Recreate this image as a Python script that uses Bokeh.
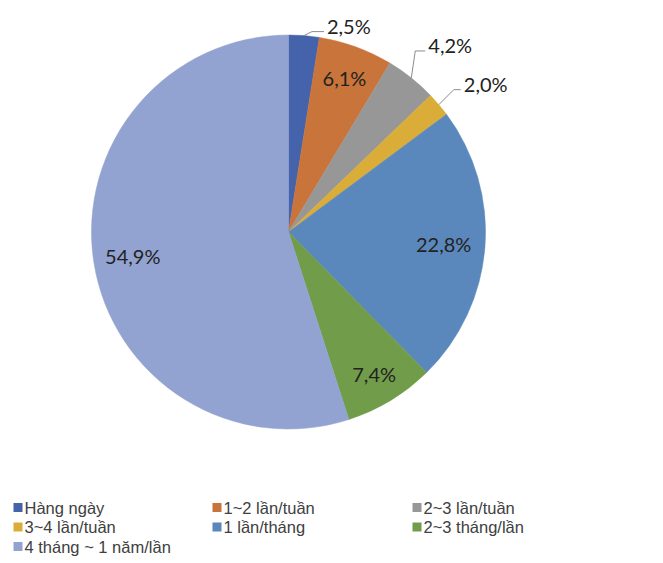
import math
from bokeh.plotting import figure
from bokeh.models import Range1d, ColumnDataSource
from bokeh.core.properties import value
from bokeh.embed import file_html
from bokeh.resources import INLINE

# ---- data ----
categories = ["Hàng ngày", "1~2 lần/tuần", "2~3 lần/tuần", "3~4 lần/tuần",
              "1 lần/tháng", "2~3 tháng/lần", "4 tháng ~ 1 năm/lần"]
values = [2.5, 6.1, 4.2, 2.0, 22.8, 7.4, 54.9]
labels = ["2,5%", "6,1%", "4,2%", "2,0%", "22,8%", "7,4%", "54,9%"]

# ---- style ----
colors = ["#4463AB", "#C9743A", "#979797", "#D9AD38", "#5B88BC", "#719D4B", "#93A3D1"]
W, H = 663, 563
def Y(s):  # screen y -> data y
    return H - s

cx, cy, R = 288, Y(231.5), 197
# label placement: ("in", radius factor) or ("out", elbow dx, elbow dy, tail length)
placement = [("out", 8, -4, 12), ("in", 0.83), ("out", 4, -27, 10), ("out", 15, -15, 7),
             ("in", 0.79), ("in", 0.84), ("in", 0.80)]
label_font = value("Lato")
legend_font = value("Liberation Sans")

p = figure(width=W, height=H, x_range=Range1d(0, W), y_range=Range1d(0, H),
           toolbar_location=None, output_backend="svg", min_border=0)
p.axis.visible = False
p.grid.visible = False
p.outline_line_color = None
p.background_fill_color = "white"

total = sum(values)
starts, ends, mids = [], [], []
cum = 0.0
for v in values:
    a0 = cum / total * 2 * math.pi
    cum += v
    a1 = cum / total * 2 * math.pi
    starts.append(math.pi / 2 - a0)
    ends.append(math.pi / 2 - a1)
    mids.append((a0 + a1) / 2)

src = ColumnDataSource(dict(start=starts, end=ends, color=colors, cat=categories))
p.wedge(x=cx, y=cy, radius=R, start_angle="start", end_angle="end", direction="clock",
        fill_color="color", line_color="color", line_width=0.5, source=src)

in_x, in_y, in_t = [], [], []
out_x, out_y, out_t = [], [], []
for m, lab, pl in zip(mids, labels, placement):
    if pl[0] == "in":
        f = pl[1]
        in_x.append(cx + R * f * math.sin(m))
        in_y.append(cy + R * f * math.cos(m))
        in_t.append(lab)
    else:
        _, edx, edy, tail = pl
        ex = cx + R * math.sin(m)
        ey = cy + R * math.cos(m)
        bx, by = ex + edx, ey - edy
        tx = bx + tail
        p.line([ex, bx, tx], [ey, by, by], line_color="#8C8C8C", line_width=1)
        out_x.append(tx + 3)
        out_y.append(by + 6)
        out_t.append(lab)

p.text(x=in_x, y=in_y, text=in_t, text_font=label_font, text_font_size="20px",
       text_color="#222222", text_align="center", text_baseline="middle")
p.text(x=out_x, y=out_y, text=out_t, text_font=label_font, text_font_size="20px",
       text_color="#222222", text_align="left", text_baseline="middle")

# ---- legend (3 columns) ----
col_x = [13, 212, 412]
row_y = [507, 526.5, 546]
lx, ly, lt, lc = [], [], [], []
for i, (c, col) in enumerate(zip(categories, colors)):
    r, k = divmod(i, 3)
    lx.append(col_x[k])
    ly.append(Y(row_y[r]))
    lt.append(c)
    lc.append(col)
p.rect(x=[x + 4.5 for x in lx], y=ly, width=9, height=9, fill_color=lc, line_color=None)
p.text(x=[x + 11 for x in lx], y=ly, text=lt, text_font=legend_font, text_font_size="16.5px",
       text_color="#404040", text_align="left", text_baseline="middle")

open("out.html", "w").write(file_html(p, INLINE))
